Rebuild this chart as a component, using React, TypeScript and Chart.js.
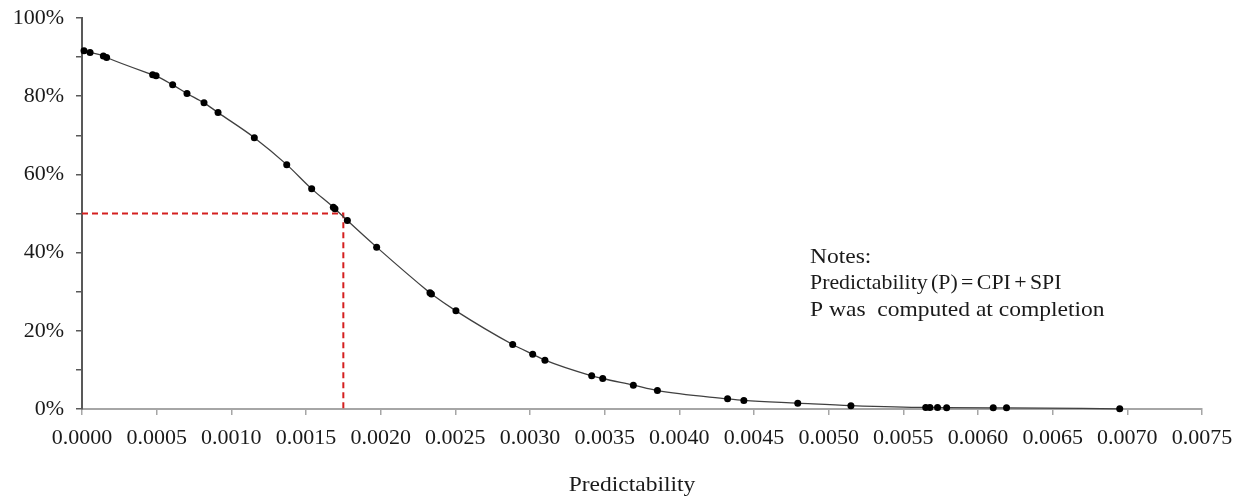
import React, { useEffect, useRef } from "react";
import { Chart, registerables } from "chart.js";

Chart.register(...registerables);

// Predictability values (x) and probability (%)
const predictability = [
  0.0000134, 0.000054, 0.000143, 0.000165, 0.000473, 0.000496, 0.000607, 0.000703,
  0.000817, 0.000911, 0.001154, 0.001371, 0.001538, 0.001683, 0.001694, 0.001777,
  0.001973, 0.00233, 0.00234, 0.002504, 0.002884, 0.003018, 0.0031, 0.003413,
  0.003487, 0.003692, 0.003853, 0.004323, 0.004432, 0.004793, 0.005149, 0.00565,
  0.005678, 0.005729, 0.00579, 0.006102, 0.006191, 0.006949,
];
const probability = [
  91.6, 91.2, 90.3, 89.9, 85.5, 85.2, 82.9, 80.7,
  78.3, 75.8, 69.4, 62.5, 56.3, 51.6, 51.2, 48.2,
  41.4, 29.7, 29.4, 25.1, 16.5, 14.0, 12.5, 8.5,
  7.8, 6.1, 4.7, 2.6, 2.2, 1.5, 0.85, 0.4,
  0.4, 0.4, 0.35, 0.3, 0.3, 0.05,
];
// Reference (median) lines
const refP = 0.00175;
const refProb = 50;

const notesLines = [
  "Notes:",
  "Predictability (P) = CPI + SPI",
  "P was  computed at completion",
];
const notesWordSpacing = ["0px", "-2px", "0px"];
const notesStretch = [1.12, 1.04, 1.12];
const xAxisTitle = "Predictability";

const FONT = "'Liberation Serif', 'Times New Roman', serif";

export default function App() {
  const ref = useRef<HTMLCanvasElement | null>(null);

  useEffect(() => {
    document.body.style.margin = "0";
    const canvas = ref.current;
    if (!canvas) return;

    const textPlugin = {
      id: "notes",
      afterDraw(chart: any) {
        const ctx = chart.ctx;
        ctx.save();
        ctx.fillStyle = "#1a1a1a";
        ctx.textBaseline = "middle";
        ctx.textAlign = "left";
        ctx.font = `21px ${FONT}`;
        notesLines.forEach((t, i) => {
          ctx.save();
          (ctx as any).wordSpacing = notesWordSpacing[i];
          ctx.translate(810, 257 + i * 26.5);
          ctx.scale(notesStretch[i], 1);
          ctx.fillText(t, 0, 0);
          ctx.restore();
        });
        // axis title
        ctx.font = `21px ${FONT}`;
        ctx.textAlign = "center";
        ctx.save();
        ctx.translate(632, 485);
        ctx.scale(1.12, 1);
        ctx.fillText(xAxisTitle, 0, 0);
        ctx.restore();
        ctx.restore();
      },
    };

    const chart = new Chart(canvas, {
      type: "scatter",
      data: {
        datasets: [
          {
            data: predictability.map((x, i) => ({ x, y: probability[i] })),
            showLine: true,
            borderColor: "#404040",
            borderWidth: 1.3,
            cubicInterpolationMode: "monotone",
            pointRadius: 3.5,
            pointBackgroundColor: "#000",
            pointBorderWidth: 0,
            clip: false,
            order: 0,
          } as any,
          {
            data: [
              { x: 0, y: refProb },
              { x: refP, y: refProb },
              { x: refP, y: 0 },
            ],
            showLine: true,
            borderColor: "#d42020",
            borderWidth: 2,
            borderDash: [6, 4],
            pointRadius: 0,
            tension: 0,
            clip: false,
            order: 1,
          } as any,
        ],
      },
      options: {
        responsive: false,
        animation: false,
        events: [],
        layout: { padding: { top: 18, right: 43, left: 0, bottom: 0 } },
        plugins: {
          legend: { display: false },
          tooltip: { enabled: false },
        },
        scales: {
          x: {
            type: "linear",
            min: 0,
            max: 0.0075,
            afterFit: (s: any) => {
              s.height = 89;
              s.paddingLeft = 0;
              s.paddingRight = 0;
            },
            ticks: {
              stepSize: 0.0005,
              color: "#1a1a1a",
              font: { family: FONT, size: 22 },
              padding: 10,
              maxRotation: 0,
              autoSkip: false,
              callback: (v: any) => Number(v).toFixed(4),
            },
            grid: {
              display: true,
              drawOnChartArea: false,
              drawTicks: true,
              tickLength: 6,
              color: "#a6a6a6",
              lineWidth: 1.5,
            },
            border: { display: true, color: "#a6a6a6", width: 2 },
            title: { display: false },
          },
          y: {
            type: "linear",
            min: 0,
            max: 100,
            afterFit: (s: any) => {
              s.width = 82;
              s.paddingTop = 0;
              s.paddingBottom = 0;
            },
            ticks: {
              stepSize: 10,
              color: "#1a1a1a",
              font: { family: FONT, size: 22 },
              padding: 12,
              autoSkip: false,
              callback: (v: any) => (Number(v) % 20 === 0 ? `${v}%` : ""),
            },
            grid: {
              display: true,
              drawOnChartArea: false,
              drawTicks: true,
              tickLength: 6,
              color: "#595959",
              lineWidth: 1.5,
            },
            border: { display: true, color: "#595959", width: 2 },
          },
        },
      } as any,
      plugins: [textPlugin],
    });

    return () => chart.destroy();
  }, []);

  return (
    <div style={{ width: 1245, height: 498 }}>
      <canvas ref={ref} width={1245} height={498} style={{ display: "block" }} />
    </div>
  );
}
